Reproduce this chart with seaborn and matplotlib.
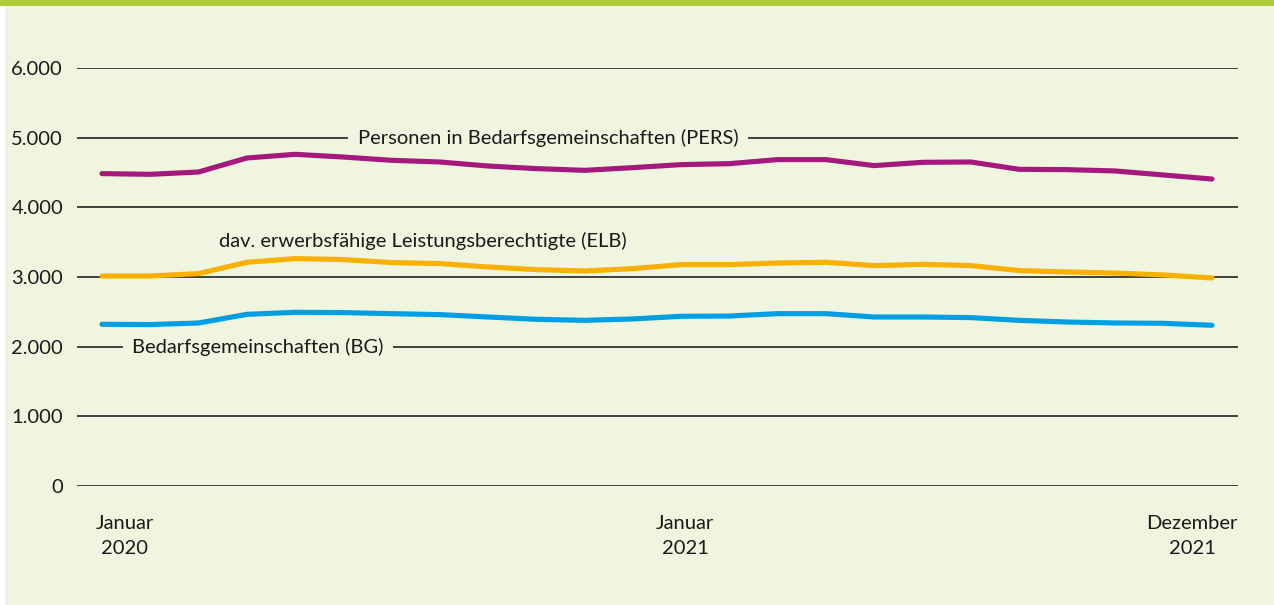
import numpy as np
import pandas as pd
import matplotlib
matplotlib.use("Agg")
import matplotlib.pyplot as plt
import matplotlib.transforms as mtransforms
from matplotlib.patches import Rectangle
from matplotlib.ticker import FuncFormatter
import seaborn as sns

# Monate Januar 2020 bis Dezember 2021
monate = ["2020-01", "2020-02", "2020-03", "2020-04", "2020-05", "2020-06",
          "2020-07", "2020-08", "2020-09", "2020-10", "2020-11", "2020-12",
          "2021-01", "2021-02", "2021-03", "2021-04", "2021-05", "2021-06",
          "2021-07", "2021-08", "2021-09", "2021-10", "2021-11", "2021-12"]

# Werte in Tausend
pers = [4484, 4474, 4507, 4708, 4761, 4722, 4675, 4651, 4593, 4556, 4531, 4570,
        4613, 4627, 4685, 4685, 4599, 4646, 4651, 4546, 4541, 4522, 4464, 4406]
elb = [3014, 3014, 3049, 3211, 3264, 3250, 3207, 3193, 3144, 3106, 3086, 3120,
       3178, 3178, 3201, 3211, 3164, 3182, 3164, 3092, 3072, 3057, 3029, 2986]
bg = [2321, 2317, 2340, 2464, 2493, 2489, 2474, 2460, 2426, 2393, 2378, 2398,
      2436, 2440, 2474, 2474, 2426, 2426, 2417, 2378, 2354, 2340, 2335, 2307]

reihen = ["PERS", "ELB", "BG"]
farben = {"PERS": "#a5197f", "ELB": "#f9b000", "BG": "#009fe3"}

xtick_pos = [0, 12, 23]
xtick_labels = ["Januar\n2020", "Januar\n2021", "Dezember\n2021"]
yticks = [0, 1000, 2000, 3000, 4000, 5000, 6000]

hintergrund = "#eff5de"
fs = 14.5

df = pd.DataFrame({
    "monat": monate * 3,
    "pos": list(range(len(monate))) * 3,
    "wert": pers + elb + bg,
    "reihe": ["PERS"] * len(monate) + ["ELB"] * len(monate) + ["BG"] * len(monate),
})

sns.set_style("white")
plt.rcParams["font.family"] = ["Lato", "DejaVu Sans"]

fig = plt.figure(figsize=(12.74, 6.05), dpi=100)
fig.patch.set_facecolor("white")
# Hintergrundflaeche und gruener Balken oben
fig.add_artist(Rectangle((5 / 1274, 0), 1, 1 - 6 / 605, transform=fig.transFigure,
                         facecolor=hintergrund, edgecolor="none", zorder=0))
fig.add_artist(Rectangle((0, 1 - 6 / 605), 1, 6 / 605, transform=fig.transFigure,
                         facecolor="#afca3b", edgecolor="none", zorder=0))

ax = fig.add_axes([77 / 1274, 1 - 486 / 605, (1238 - 77) / 1274, (486 - 68) / 605])
ax.set_facecolor("none")

sns.lineplot(data=df, x="pos", y="wert", hue="reihe", hue_order=reihen,
             palette=farben, linewidth=3.7, legend=False, ax=ax,
             solid_capstyle="round", zorder=5)

ax.set_xlim(-0.518, 23.539)
ax.set_ylim(0, 6000)
ax.set_yticks(yticks)
ax.yaxis.set_major_formatter(FuncFormatter(lambda v, p: f"{int(v):,}".replace(",", ".")))
ax.yaxis.grid(True, color="#222222", linewidth=1.2)
ax.xaxis.grid(False)
ax.set_axisbelow(True)
for s in ax.spines.values():
    s.set_visible(False)
ax.set_xlabel("")
ax.set_ylabel("")
ax.tick_params(axis="y", length=0, pad=10, labelsize=fs, labelcolor="#1a1a1a")
ax.tick_params(axis="x", length=0, pad=21, labelsize=fs, labelcolor="#1a1a1a")

ax.set_xticks(xtick_pos)
ax.set_xticklabels(xtick_labels, linespacing=1.55, multialignment="center")
# Beschriftungen leicht verschieben wie im Original
for lab, dx in zip(ax.get_xticklabels(), [23, 4, -20]):
    lab.set_transform(lab.get_transform() +
                      mtransforms.ScaledTranslation(dx / 100, 0, fig.dpi_scale_trans))

box = dict(facecolor=hintergrund, edgecolor="none", pad=7)
ax.text(9.25, 5000, "Personen in Bedarfsgemeinschaften (PERS)", ha="center", va="center",
        fontsize=fs, color="#1a1a1a", bbox=box, zorder=3)
ax.text(6.65, 3520, "dav. erwerbsfähige Leistungsberechtigte (ELB)", ha="center", va="center",
        fontsize=fs, color="#1a1a1a", zorder=3)
ax.text(3.23, 2000, "Bedarfsgemeinschaften (BG)", ha="center", va="center",
        fontsize=fs, color="#1a1a1a", bbox=box, zorder=3)

fig.savefig("out.png", dpi=100, facecolor=fig.get_facecolor())
